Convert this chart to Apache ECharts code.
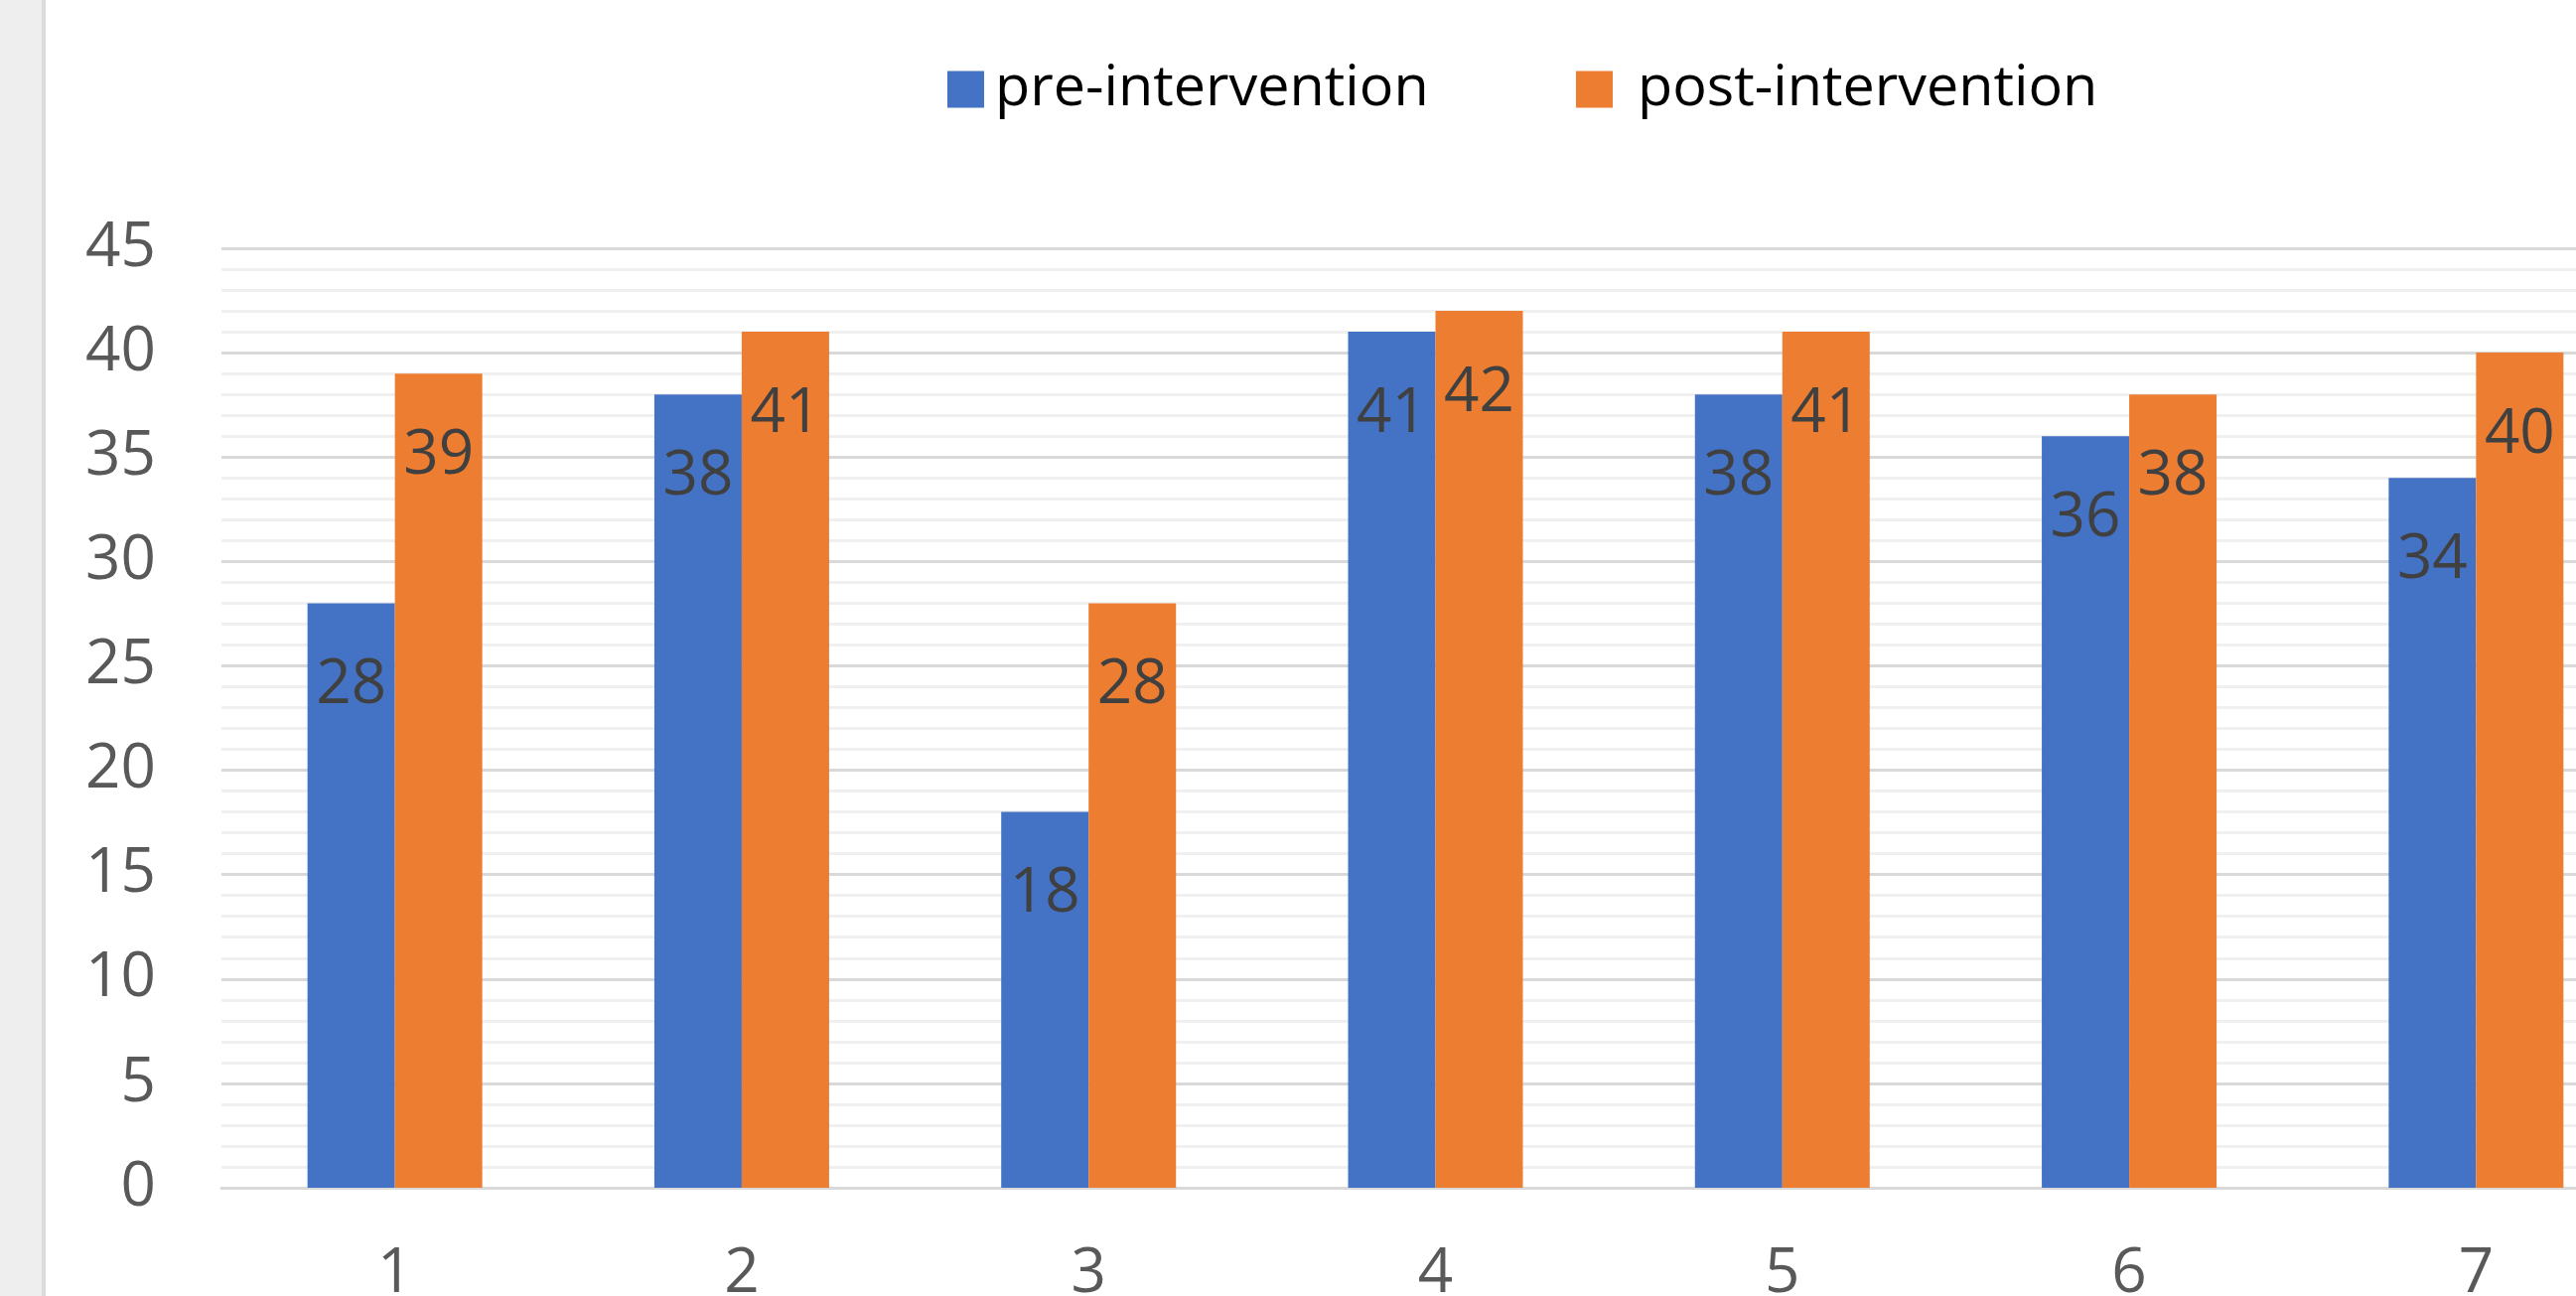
<!DOCTYPE html>
<html>
<head>
<meta charset="utf-8">
<title>pre- vs post-intervention</title>
<script src="https://cdn.jsdelivr.net/npm/echarts@6/dist/echarts.min.js"></script>
<style>
  html, body { margin: 0; padding: 0; background: #ffffff; overflow: hidden; }
  /* the plot runs past the right edge of the window, so the last group is cut off */
  #chart { width: 2668px; height: 1305px; }
</style>
</head>
<body>
<div id="chart"></div>
<script>
// Participants / items on the category axis
const categories = ['1', '2', '3', '4', '5', '6', '7'];

// Scores before and after the intervention
const preIntervention = [28, 38, 18, 41, 38, 36, 34];
const postIntervention = [39, 41, 28, 42, 41, 38, 40];

const seriesNames = ['pre-intervention', 'post-intervention'];
const FONT = '"Open Sans", "Noto Sans", sans-serif';

const chart = echarts.init(document.getElementById('chart'), null, { renderer: 'canvas' });

const labelStyle = {
  show: true,
  position: 'insideTop',
  distance: 52,
  fontFamily: FONT,
  fontSize: 62,
  fontWeight: 500,
  color: '#404040'
};

chart.setOption({
  backgroundColor: '#ffffff',
  animation: false,
  graphic: [
    { type: 'rect', left: 0, top: 0, shape: { width: 42, height: 1305 }, style: { fill: '#eeeeee' }, z: 100 },
    { type: 'rect', left: 42, top: 0, shape: { width: 4, height: 1305 }, style: { fill: '#dcdcdc' }, z: 100 }
  ],
  legend: [
    {
      left: 954, top: 61, padding: 0,
      icon: 'rect', itemWidth: 37, itemHeight: 37,
      data: [seriesNames[0]],
      textStyle: { fontFamily: FONT, fontSize: 57.5, color: '#000000', padding: [0, 0, 0, 6] }
    },
    {
      left: 1587, top: 61, padding: 0,
      icon: 'rect', itemWidth: 37, itemHeight: 37,
      data: [seriesNames[1]],
      textStyle: { fontFamily: FONT, fontSize: 57.5, color: '#000000', padding: [0, 0, 0, 20] }
    }
  ],
  grid: { left: 223, top: 250, bottom: 109, right: 0, outerBoundsMode: 'none', containLabel: false },
  xAxis: {
    type: 'category',
    data: categories,
    axisTick: { show: false },
    axisLine: { show: true, lineStyle: { color: '#d9d9d9', width: 3 } },
    axisLabel: { fontFamily: FONT, fontSize: 62, fontWeight: 500, color: '#595959', margin: 56 },
    splitLine: { show: false }
  },
  yAxis: {
    type: 'value',
    min: 0, max: 45, interval: 5,
    axisLine: { show: false },
    axisTick: { show: false },
    axisLabel: { fontFamily: FONT, fontSize: 62, fontWeight: 500, color: '#595959', margin: 66 },
    splitLine: { show: true, lineStyle: { color: '#d9d9d9', width: 3 } },
    minorTick: { show: false, splitNumber: 5 },
    minorSplitLine: { show: true, lineStyle: { color: '#f0f0f0', width: 3 } }
  },
  series: [
    {
      name: seriesNames[0], type: 'bar', data: preIntervention,
      barWidth: 88, barGap: '0%',
      itemStyle: { color: '#4472c4' },
      label: labelStyle
    },
    {
      name: seriesNames[1], type: 'bar', data: postIntervention,
      barWidth: 88, barGap: '0%',
      itemStyle: { color: '#ed7d31' },
      label: labelStyle
    }
  ]
});
</script>
</body>
</html>
